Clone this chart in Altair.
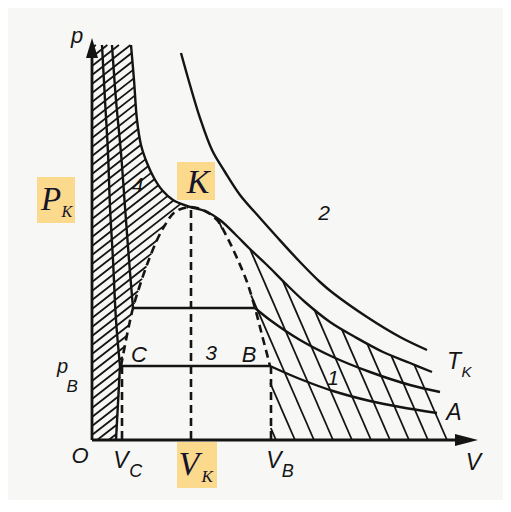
import altair as alt
import pandas as pd

# ---------------- data (V, p in arbitrary units) ----------------
# isotherm above the critical one (label "2")
ISO2_V = [8.9, 9.8, 10.8, 12.0, 13.3, 14.8, 16.8, 18.5, 20.8, 22.8, 24.1, 27.5, 30.8, 33.5]
ISO2_P = [38.7, 35.5, 32.2, 29.0, 26.8, 24.5, 22.2, 20.3, 17.8, 15.8, 14.7, 12.3, 10.3, 9.0]

# critical isotherm T_K (passes through K)
TK_V = [3.9, 4.2, 4.5, 4.9, 5.5, 6.2, 7.0, 8.1, 9.8, 11.3, 12.8, 14.3, 15.8, 17.5, 19.3, 21.3, 23.8, 26.3, 29.1, 31.8, 34.0]
TK_P = [39.5, 36.0, 32.0, 29.5, 27.7, 26.2, 25.0, 24.0, 23.3, 22.9, 22.0, 20.6, 19.1, 17.5, 15.7, 13.8, 11.8, 10.3, 8.8, 7.7, 6.8]

# middle sub-critical isotherm
T3_LIQ_V = [2.0, 2.4, 2.9, 3.3, 3.7, 4.1]
T3_LIQ_P = [39.5, 34.0, 28.7, 23.3, 18.0, 13.2]
T3_GAS_V = [16.3, 17.8, 20.8, 24.1, 27.8, 31.8, 34.8]
T3_GAS_P = [13.2, 12.0, 10.0, 8.3, 6.8, 5.5, 4.8]

# lowest isotherm (C - B - A)
A_LIQ_V = [1.0, 1.3, 1.6, 1.8, 2.1, 2.4, 2.8]
A_LIQ_P = [39.5, 34.0, 28.7, 23.3, 18.0, 12.0, 7.4]
A_LOW_V = [2.8, 2.4]
A_LOW_P = [7.4, 0.0]
A_GAS_V = [17.8, 20.8, 24.1, 27.8, 30.8, 34.5]
A_GAS_P = [7.4, 6.1, 4.9, 3.9, 3.3, 2.7]

# saturation (dashed) curve  C -> K -> B
BIN_V = [2.9, 3.5, 4.1, 4.8, 5.6, 6.5, 7.3, 8.3, 9.8, 11.3, 12.5, 13.5, 14.5, 15.5, 16.3, 17.0, 17.6, 17.8]
BIN_P = [7.4, 10.5, 13.2, 15.5, 17.8, 20.0, 21.5, 22.8, 23.3, 22.9, 22.0, 20.3, 18.2, 15.8, 13.2, 10.5, 8.2, 7.4]
K_INDEX = 8

# key volumes / pressures
V_C, V_K, V_B = 3.0, 9.9, 17.9
P_B, P_3 = 7.4, 13.2
V_AXIS_END, P_AXIS_END = 37.0, 38.5

# sans italic labels
LAB_TEXT = ["p", "O", "V", "V", "V", "A", "T", "2", "1", "3", "C", "B", "4", "p"]
LAB_V = [-1.5, -1.2, 2.9, 18.2, 38.15, 36.2, 36.2, 23.2, 24.1, 11.9, 4.7, 15.7, 4.55, -2.95]
LAB_P = [39.75, -2.3, -2.8, -2.8, -3.0, 2.0, 7.1, 22.0, 5.5, 8.0, 7.8, 7.8, 24.8, 6.7]
LAB_SIZE = [22, 22, 23, 23, 23, 23, 23, 21, 21, 21, 22, 22, 21, 20]
# subscripts (left aligned)
SUB_TEXT = ["C", "B", "K", "B"]
SUB_V = [3.72, 18.98, 36.95, -2.55]
SUB_P = [-3.7, -3.7, 6.3, 4.8]
SUB_SIZE = [18, 18, 15, 17]

# yellow boxed serif labels
BOX_TEXT = ["K", "P", "V"]
BOX_TV = [10.6, -4.1, 9.7]
BOX_TP = [24.7, 23.0, -3.5]
BOX_TSIZE = [34, 33, 34]
BSUB_TEXT = ["K", "K"]
BSUB_V = [-3.05, 10.95]
BSUB_P = [22.3, -4.2]
BSUB_SIZE = [16, 17]
BOX_V1 = [8.5, -5.5, 8.5]
BOX_V2 = [12.3, -1.7, 12.5]
BOX_P1 = [24.0, 21.7, -4.8]
BOX_P2 = [27.8, 26.3, -0.2]

# ---------------- geometry helpers ----------------
def clip(poly, p0, d):
    ts = []
    n = len(poly)
    for i in range(n):
        ax, ay = poly[i]
        bx, by = poly[(i + 1) % n]
        ex, ey = bx - ax, by - ay
        det = ex * d[1] - ey * d[0]
        if abs(det) < 1e-12:
            continue
        rx, ry = ax - p0[0], ay - p0[1]
        t = (ex * ry - ey * rx) / det
        s = (d[0] * ry - d[1] * rx) / det
        if 0 <= s < 1:
            ts.append(t)
    ts.sort()
    segs = []
    for j in range(0, len(ts) - 1, 2):
        t0, t1 = ts[j], ts[j + 1]
        segs.append((p0[0] + t0 * d[0], p0[1] + t0 * d[1], p0[0] + t1 * d[0], p0[1] + t1 * d[1]))
    return segs

tk_pts = list(zip(TK_V, TK_P))
k_tk = TK_V.index(9.8)
bin_pts = list(zip(BIN_V, BIN_P))

poly_left = [(0.0, 0.0), (0.0, 39.5)] + tk_pts[: k_tk + 1] + bin_pts[:K_INDEX][::-1] + [(2.4, 0.0)]
poly_right = bin_pts[K_INDEX:] + [(V_B, 0.0), (35.6, 0.0)] + tk_pts[k_tk:][::-1]

hatch = []
c = -4.0
while c < 40.0:
    hatch += clip(poly_left, (0.0, c), (1.0, 0.78))
    c += 0.9
for k in range(12):
    b = 35.5 - 1.9 * k
    hatch += clip(poly_right, (b, 0.0), (-1.0, 2.3))
hatch_df = pd.DataFrame(hatch, columns=["V", "p", "V2", "p2"])

def curve_rows(name, vs, ps):
    return [{"curve": name, "i": i, "V": v, "p": p} for i, (v, p) in enumerate(zip(vs, ps))]

solid = []
solid += curve_rows("iso2", ISO2_V, ISO2_P)
solid += curve_rows("tk", TK_V, TK_P)
solid += curve_rows("t3liq", T3_LIQ_V, T3_LIQ_P)
solid += curve_rows("t3h", [T3_LIQ_V[-1], T3_GAS_V[0]], [P_3, P_3])
solid += curve_rows("t3gas", T3_GAS_V, T3_GAS_P)
solid += curve_rows("aliq", A_LIQ_V, A_LIQ_P)
solid += curve_rows("alow", A_LOW_V, A_LOW_P)
solid += curve_rows("ah", [A_LIQ_V[-1], A_GAS_V[0]], [P_B, P_B])
solid += curve_rows("agas", A_GAS_V, A_GAS_P)
solid_df = pd.DataFrame(solid)

bin_df = pd.DataFrame(curve_rows("bin", BIN_V, BIN_P))
vdash_df = pd.DataFrame({"V": [V_C, V_K, V_B], "p": [P_B, 23.0, P_B], "V2": [V_C, V_K, V_B], "p2": [0.0, 0.0, 0.0]})
axes_df = pd.DataFrame({"V": [0.0, 0.0], "p": [0.0, 0.0], "V2": [V_AXIS_END, 0.0], "p2": [0.0, P_AXIS_END]})
arrow_up = pd.DataFrame({"V": [0.0], "p": [39.2]})
arrow_rt = pd.DataFrame({"V": [37.45], "p": [0.0]})

lab_df = pd.DataFrame({"V": LAB_V, "p": LAB_P, "t": LAB_TEXT, "s": LAB_SIZE})
sub_df = pd.DataFrame({"V": SUB_V, "p": SUB_P, "t": SUB_TEXT, "s": SUB_SIZE})
box_df = pd.DataFrame({"V": BOX_V1, "V2": BOX_V2, "p": BOX_P1, "p2": BOX_P2})
btxt_df = pd.DataFrame({"V": BOX_TV, "p": BOX_TP, "t": BOX_TEXT, "s": BOX_TSIZE})
bsub_df = pd.DataFrame({"V": BSUB_V, "p": BSUB_P, "t": BSUB_TEXT, "s": BSUB_SIZE})

# ---------------- chart ----------------
XS = alt.Scale(domain=[-8.4, 41.1], nice=False, zero=False)
YS = alt.Scale(domain=[-6.0, 43.2], nice=False, zero=False)
INK = "#141414"

def X(f="V"):
    return alt.X(f + ":Q", scale=XS, axis=None)

def Y(f="p"):
    return alt.Y(f + ":Q", scale=YS, axis=None)

hatch_l = alt.Chart(hatch_df).mark_rule(color=INK, strokeWidth=1.8).encode(
    x=X(), y=Y(), x2="V2:Q", y2="p2:Q")

solid_l = alt.Chart(solid_df).mark_line(color=INK, strokeWidth=2.4, interpolate="catmull-rom").encode(
    x=X(), y=Y(), detail="curve:N", order="i:Q")

bin_l = alt.Chart(bin_df).mark_line(color=INK, strokeWidth=2.6, strokeDash=[8, 5], interpolate="catmull-rom").encode(
    x=X(), y=Y(), order="i:Q")

vdash_l = alt.Chart(vdash_df).mark_rule(color=INK, strokeWidth=2.6, strokeDash=[8, 5]).encode(
    x=X(), y=Y(), x2="V2:Q", y2="p2:Q")

axes_l = alt.Chart(axes_df).mark_rule(color=INK, strokeWidth=2.8).encode(
    x=X(), y=Y(), x2="V2:Q", y2="p2:Q")

arr_u = alt.Chart(arrow_up).mark_point(shape="M0,-1L0.6,1L-0.6,1Z", size=400, filled=True, color=INK, opacity=1).encode(
    x=X(), y=Y())
arr_r = alt.Chart(arrow_rt).mark_point(shape="M1,0L-1,0.52L-1,-0.52Z", size=529, filled=True, color=INK, opacity=1).encode(
    x=X(), y=Y())

box_l = alt.Chart(box_df).mark_rect(color="#FBD98D").encode(x=X(), x2="V2:Q", y=Y(), y2="p2:Q")

def text_layer(df, font, align, color):
    return alt.Chart(df).mark_text(font=font, fontStyle="italic", baseline="alphabetic",
                                   align=align, color=color).encode(
        x=X(), y=Y(), text="t:N", size=alt.Size("s:Q", scale=None, legend=None))

lab_l = text_layer(lab_df, "Liberation Sans", "center", INK)
sub_l = text_layer(sub_df, "Liberation Sans", "left", INK)
btxt_l = text_layer(btxt_df, "Liberation Serif", "center", "#14142a")
bsub_l = text_layer(bsub_df, "Liberation Serif", "left", "#14142a")

chart = alt.layer(hatch_l, solid_l, bin_l, vdash_l, axes_l, arr_u, arr_r, box_l,
                  lab_l, sub_l, btxt_l, bsub_l).properties(
    width=495, height=492, padding=0, background="#f7f7f6",
    autosize=alt.AutoSizeParams(type="fit", contains="padding"),
).configure_view(stroke=None)

chart.save("out.html", embed_options={"renderer": "svg", "actions": False})
